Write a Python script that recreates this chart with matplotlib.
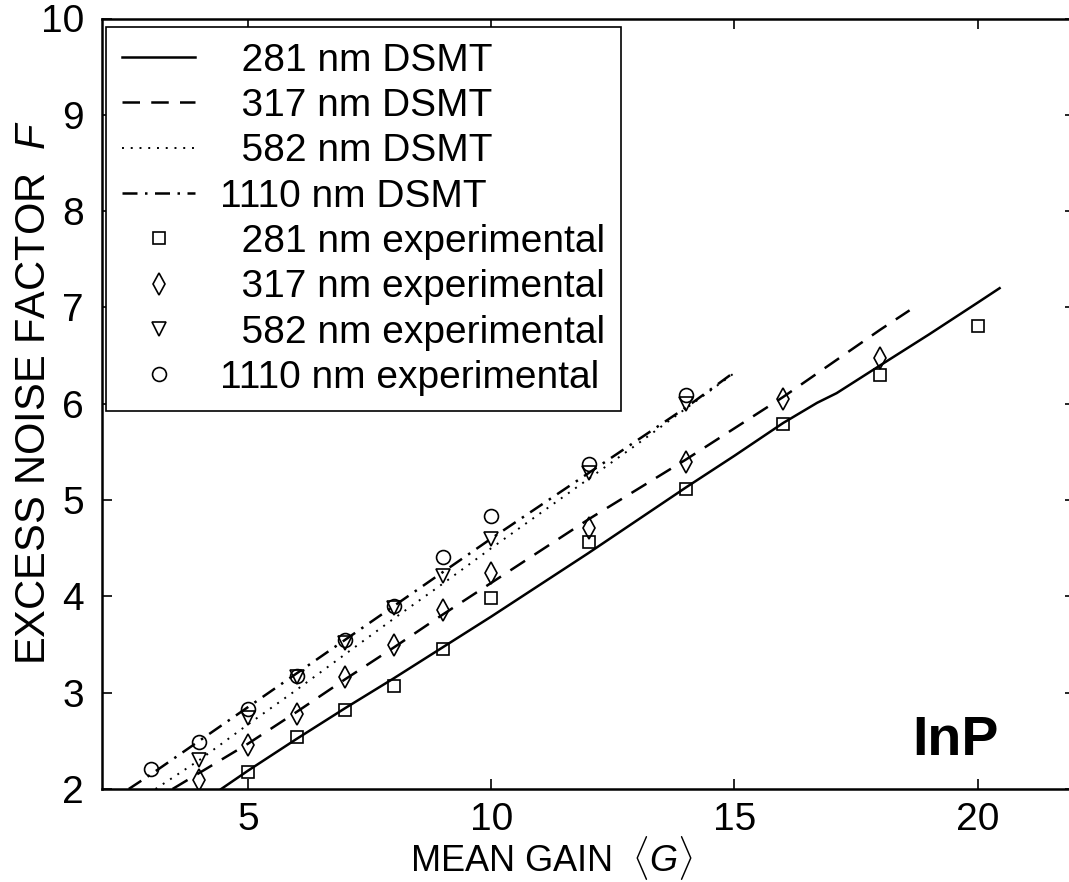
import numpy as np
import matplotlib.pyplot as plt

plt.rcParams['font.family'] = ['Liberation Sans', 'DejaVu Sans']
plt.rcParams['mathtext.fontset'] = 'custom'
plt.rcParams['mathtext.rm'] = 'Liberation Sans'
plt.rcParams['mathtext.it'] = 'Liberation Sans:italic'

# DSMT curves (gain, F)
g_281 = [4.45, 5, 6, 7, 8, 9, 10, 11, 12, 13, 14, 15, 16, 16.7, 17.1, 18, 19, 20, 20.45]
f_281 = [2.0, 2.19, 2.52, 2.84, 3.15, 3.47, 3.79, 4.12, 4.45, 4.79, 5.13, 5.46, 5.80, 6.01, 6.11, 6.40, 6.72, 7.05, 7.20]
g_317 = [3.45, 5, 6, 7, 8, 9, 10, 12, 14, 16, 18, 18.6]
f_317 = [2.0, 2.47, 2.80, 3.14, 3.47, 3.81, 4.14, 4.80, 5.42, 6.07, 6.77, 6.97]
g_582 = [3.1, 4, 5, 6, 7, 8, 9, 10, 11, 12, 13, 14, 15]
f_582 = [2.0, 2.30, 2.67, 3.03, 3.40, 3.77, 4.13, 4.50, 4.86, 5.22, 5.58, 5.95, 6.32]
g_1110 = [2.55, 3, 4, 5, 6, 7, 8, 9, 10, 11, 12, 13, 14, 15]
f_1110 = [2.0, 2.15, 2.50, 2.85, 3.20, 3.55, 3.90, 4.25, 4.60, 4.94, 5.28, 5.62, 5.96, 6.33]

# experimental points
xg_281 = [5, 6, 7, 8, 9, 10, 12, 14, 16, 18, 20]
xf_281 = [2.18, 2.54, 2.82, 3.07, 3.45, 3.98, 4.56, 5.12, 5.79, 6.30, 6.81]
xg_317 = [4, 5, 6, 7, 8, 9, 10, 12, 14, 16, 18]
xf_317 = [2.09, 2.46, 2.78, 3.16, 3.49, 3.86, 4.24, 4.71, 5.40, 6.05, 6.47]
xg_582 = [4, 5, 6, 7, 8, 9, 10, 12, 14]
xf_582 = [2.30, 2.74, 3.16, 3.52, 3.88, 4.21, 4.60, 5.28, 6.00]
xg_1110 = [3, 4, 5, 6, 7, 8, 9, 10, 12, 14]
xf_1110 = [2.21, 2.49, 2.83, 3.17, 3.55, 3.90, 4.41, 4.83, 5.37, 6.09]

fig = plt.figure(figsize=(10.69, 8.82), dpi=100)
ax = fig.add_axes([102 / 1069, (882 - 789) / 882, (1075 - 102) / 1069, (789 - 18.5) / 882])

lw = 1.8
ax.plot(g_281, f_281, color='black', lw=lw, label='  281 nm DSMT')
ax.plot(g_317, f_317, color='black', lw=lw, dashes=(7, 4.5), label='  317 nm DSMT')
ax.plot(g_582, f_582, color='black', lw=1.4, dashes=(1, 3.5), label='  582 nm DSMT')
ax.plot(g_1110, f_1110, color='black', lw=lw, dashes=(6, 3, 1, 3), label='1110 nm DSMT')

mk = dict(ls='none', mfc='none', mec='black', mew=1.2)
ax.plot(xg_281, xf_281, marker='s', ms=9, label='  281 nm experimental', **mk)
ax.plot(xg_317, xf_317, marker='d', ms=11, label='  317 nm experimental', **mk)
ax.plot(xg_582, xf_582, marker='v', ms=10, label='  582 nm experimental', **mk)
ax.plot(xg_1110, xf_1110, marker='o', ms=10, label='1110 nm experimental', **mk)

ax.set_xlim(2, 22)
ax.set_ylim(2, 10)
ax.set_xticks([5, 10, 15, 20])
ax.set_yticks(range(2, 11))
ax.tick_params(direction='in', length=7, width=1.2, labelsize=28, top=True, right=True)
ax.tick_params(axis='x', pad=9)
ax.tick_params(axis='y', pad=13)
for s in ax.spines.values():
    s.set_linewidth(1.8)

ax.set_xlabel(r'MEAN GAIN  $\langle G \rangle$', fontsize=26)
ax.xaxis.set_label_coords(0.4625, -0.059)
ax.set_ylabel(r'EXCESS NOISE FACTOR  $F$', fontsize=30)
ax.yaxis.set_label_coords(-0.049, 0.515)

ax.text(19.55, 2.5, 'InP', fontsize=40, fontweight='bold', ha='center', va='center')

leg = ax.legend(loc='upper left', bbox_to_anchor=(106 / 1069, (882 - 27) / 882),
                bbox_transform=fig.transFigure, borderaxespad=0, fontsize=28,
                fancybox=False, framealpha=1, edgecolor='black', handlelength=1.9,
                handletextpad=0.64, labelspacing=0.24, borderpad=0.4)
leg.get_frame().set_linewidth(1.2)

fig.savefig('out.png', dpi=100)
